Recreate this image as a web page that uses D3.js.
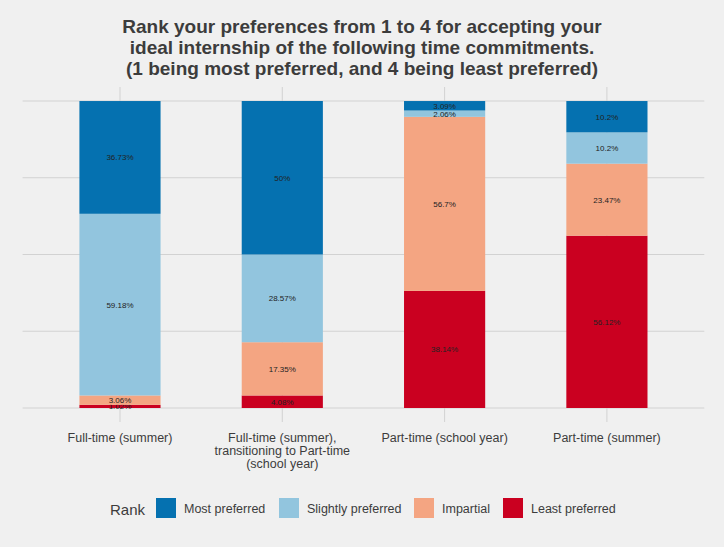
<!DOCTYPE html>
<meta charset="utf-8">
<script src="https://d3js.org/d3.v7.min.js"></script>
<style>body{margin:0;background:#f0f0f0}</style>
<div id="vis"></div>
<script>
var categories = ["Full-time (summer)", "Full-time (summer),\ntransitioning to Part-time\n(school year)", "Part-time (school year)", "Part-time (summer)"];
var ranks = ["Most preferred", "Slightly preferred", "Impartial", "Least preferred"];
var mostPreferred = [36.73, 50, 3.09, 10.2];
var slightlyPreferred = [59.18, 28.57, 2.06, 10.2];
var impartial = [3.06, 17.35, 56.7, 23.47];
var leastPreferred = [1.02, 4.08, 38.14, 56.12];
var colors = ["#0571b0", "#92c5de", "#f4a582", "#ca0020"];

var W = 724, H = 547, L = 22.6, R = 704.3, T = 101, B = 408;
var svg = d3.select("#vis").append("svg").attr("width", W).attr("height", H)
  .style("font-family", "Liberation Sans, Arial, sans-serif");
svg.append("rect").attr("width", W).attr("height", H).attr("fill", "#f0f0f0");

var rows = categories.map(function(c, i) {
  return {cat: c, "Most preferred": mostPreferred[i], "Slightly preferred": slightlyPreferred[i],
          "Impartial": impartial[i], "Least preferred": leastPreferred[i]};
});
// stack bottom-up: Least at bottom
var stack = d3.stack().keys(ranks.slice().reverse())(rows);

var x = d3.scaleBand().domain(categories).range([L, R]).paddingInner(0.5).paddingOuter(0.35);
var y = d3.scaleLinear().domain([0, 100]).range([B, T]);

// grid
svg.selectAll(".hg").data([0, 25, 50, 75, 100]).enter().append("line")
  .attr("x1", L).attr("x2", R).attr("y1", function(d){return y(d);}).attr("y2", function(d){return y(d);})
  .attr("stroke", "#d2d2d2");
svg.selectAll(".vg").data(categories).enter().append("line")
  .attr("x1", function(d){return x(d) + x.bandwidth()/2;}).attr("x2", function(d){return x(d) + x.bandwidth()/2;})
  .attr("y1", 87).attr("y2", 422).attr("stroke", "#d2d2d2");

var g = svg.selectAll(".layer").data(stack).enter().append("g")
  .attr("fill", function(d){ return colors[ranks.indexOf(d.key)]; });
g.selectAll("rect").data(function(d){return d;}).enter().append("rect")
  .attr("x", function(d){return x(d.data.cat);}).attr("width", x.bandwidth())
  .attr("y", function(d){return y(d[1]);}).attr("height", function(d){return y(d[0]) - y(d[1]);});
g.selectAll("text").data(function(d){return d;}).enter().append("text")
  .attr("x", function(d){return x(d.data.cat) + x.bandwidth()/2;})
  .attr("y", function(d){return (y(d[0]) + y(d[1]))/2 + 3;})
  .attr("text-anchor", "middle").attr("font-size", 8).attr("fill", "#222")
  .text(function(d){ return +(d[1] - d[0]).toFixed(2) + "%"; });

// x labels
categories.forEach(function(c) {
  var t = svg.append("text").attr("text-anchor", "middle").attr("font-size", 12.5).attr("fill", "#3c3c3c")
    .attr("x", x(c) + x.bandwidth()/2).attr("y", 442);
  c.split("\n").forEach(function(s, i){ t.append("tspan").attr("x", x(c) + x.bandwidth()/2).attr("dy", i ? 13 : 0).text(s); });
});

// title
var title = ["Rank your preferences from 1 to 4 for accepting your", "ideal internship of the following time commitments.", "(1 being most preferred, and 4 being least preferred)"];
svg.selectAll(".title").data(title).enter().append("text")
  .attr("x", 362).attr("y", function(d, i){return 33 + i * 21;}).attr("text-anchor", "middle")
  .attr("font-size", 19).attr("font-weight", "bold").attr("fill", "#3c3c3c").text(function(d){return d;});

// legend
svg.append("text").attr("x", 110).attr("y", 515).attr("font-size", 15).attr("fill", "#3c3c3c").text("Rank");
ranks.forEach(function(r, i) {
  var lg = svg.append("g").attr("transform", "translate(" + [156, 279, 414, 503][i] + ",498)");
  lg.append("rect").attr("width", 20).attr("height", 20).attr("fill", colors[i]);
  lg.append("text").attr("x", 28).attr("y", 15).attr("font-size", 12.5).attr("fill", "#3c3c3c").text(r);
});
</script>
